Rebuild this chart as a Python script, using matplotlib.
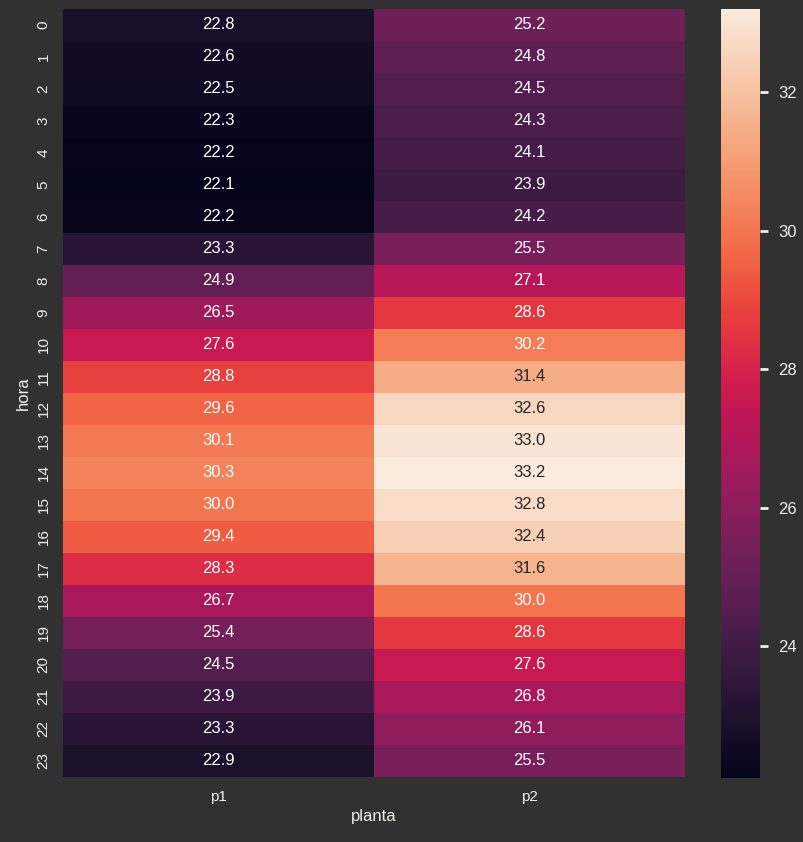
import matplotlib
matplotlib.use("Agg")
import matplotlib.pyplot as plt
import seaborn as sns
import numpy as np
import pandas as pd

hours = list(range(24))
p1 = [22.8, 22.6, 22.5, 22.3, 22.2, 22.1, 22.2, 23.3, 24.9, 26.5, 27.6, 28.8, 29.6, 30.1,
      30.3, 30.0, 29.4, 28.3, 26.7, 25.4, 24.5, 23.9, 23.3, 22.9]
p2 = [25.2, 24.8, 24.5, 24.3, 24.1, 23.9, 24.2, 25.5, 27.1, 28.6, 30.2, 31.4, 32.6, 33.0,
      33.2, 32.8, 32.4, 31.6, 30.0, 28.6, 27.6, 26.8, 26.1, 25.5]

df = pd.DataFrame({"p1": p1, "p2": p2}, index=pd.Index(hours, name="hora"))
df.columns.name = "planta"

bg = "#313131"
fg = "#eeeee8"
sns.set_theme(style="dark")
plt.rcParams.update({
    "figure.facecolor": bg, "axes.facecolor": bg, "savefig.facecolor": bg,
    "text.color": fg, "axes.labelcolor": fg, "xtick.color": fg, "ytick.color": fg,
    "axes.edgecolor": bg,
})
plt.rcParams["font.family"] = ["Liberation Sans", "DejaVu Sans"]

fig = plt.figure(figsize=(8.04, 8.42), dpi=100)
ax = fig.add_axes([63/804, 1-777/842, (685-63)/804, (777-9)/842])
cax = fig.add_axes([721/804, 1-778/842, (760-721)/804, (778-9)/842])
sns.heatmap(df, annot=True, fmt=".1f", ax=ax, cbar_ax=cax,
            annot_kws={"fontsize": 12})
ax.tick_params(axis="both", labelsize=11, length=0, pad=9)
cax.tick_params(labelsize=12, length=6, width=2, color=fg, pad=7)
cax.set_yticks([24, 26, 28, 30, 32])
ax.set_xlabel("planta", fontsize=12)
ax.set_ylabel("hora", fontsize=12)
for s in cax.spines.values():
    s.set_visible(False)
fig.savefig("out.png", dpi=100, facecolor=bg)
